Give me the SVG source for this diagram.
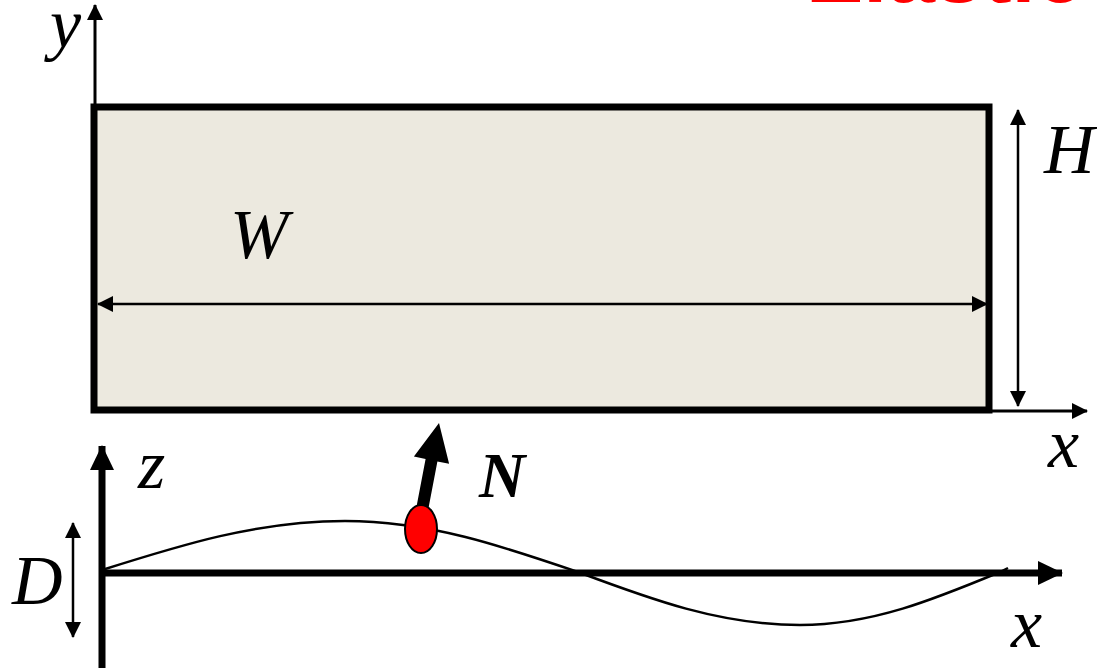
<svg xmlns="http://www.w3.org/2000/svg" width="1097" height="671" viewBox="0 0 1097 671">
<style>
.lbl{font-family:"Liberation Serif","DejaVu Serif",serif;font-style:italic;font-size:70px;fill:#000}
.thin{stroke:#000;stroke-width:2.5;fill:none}
.axis{stroke:#000;stroke-width:3;fill:none}
.thick{stroke:#000;stroke-width:7;fill:none}
</style>
<defs>
<marker id="ah" viewBox="0 0 16 16" refX="15" refY="8" markerWidth="16" markerHeight="16" markerUnits="userSpaceOnUse" orient="auto-start-reverse">
<path d="M0,0 L16,8 L0,16 z" fill="#000"/>
</marker>
<marker id="ahT" viewBox="0 0 25 24" refX="24" refY="12" markerWidth="25" markerHeight="24" markerUnits="userSpaceOnUse" orient="auto-start-reverse">
<path d="M0,0 L25,12 L0,24 z" fill="#000"/>
</marker>
</defs>
<text x="806" y="2" font-family="Liberation Sans, Arial, sans-serif" font-weight="bold" font-size="86" fill="#FF0000">Elastic</text>
<g id="plate">
<rect x="94" y="107" width="895" height="303" fill="#ECE9DF" stroke="#000" stroke-width="7"/>
</g>
<g id="connectors">
<line class="axis" x1="95" y1="104" x2="95" y2="5" marker-end="url(#ah)"/>
<line class="axis" x1="992" y1="411" x2="1087" y2="411" marker-end="url(#ah)"/>
<line class="thin" x1="1018" y1="110" x2="1018" y2="406" marker-start="url(#ah)" marker-end="url(#ah)"/>
<line class="thin" x1="98" y1="304" x2="987" y2="304" marker-start="url(#ah)" marker-end="url(#ah)"/>
<line class="thick" x1="102" y1="668" x2="102" y2="446" marker-end="url(#ahT)"/>
<line class="thick" x1="102" y1="573" x2="1062" y2="573" marker-end="url(#ahT)"/>
<line class="thin" x1="73" y1="523" x2="73" y2="637" marker-start="url(#ah)" marker-end="url(#ah)"/>
</g>
<g id="wave">
<path d="M102,570 C181,545 257,521 345,521 C429,521 502,546 578,572 C650,599 720,625 800,625 C872,625 935,599 1000,572 L1008,568" fill="none" stroke="#000" stroke-width="2.5"/>
</g>
<g id="normal">
<polygon points="427.9,511.2 416.1,508.8 425.6,459 413.9,456.6 439,423 449.1,463.8 437.4,461.4" fill="#000"/>
<ellipse cx="421" cy="529" rx="16" ry="24" fill="#FF0000" stroke="#000" stroke-width="2"/>
<text x="479" y="497" font-family="Liberation Serif, DejaVu Serif, serif" font-style="italic" font-weight="bold" font-size="64">N</text>
</g>
<g id="labels">
<text class="lbl" x="50" y="47">y</text>
<text class="lbl" x="1044" y="173">H</text>
<text class="lbl" x="1048" y="467">x</text>
<text class="lbl" x="230" y="258">W</text>
<text class="lbl" x="138" y="488">z</text>
<text class="lbl" x="12" y="604">D</text>
<text class="lbl" x="1011" y="647">x</text>
</g>
</svg>
